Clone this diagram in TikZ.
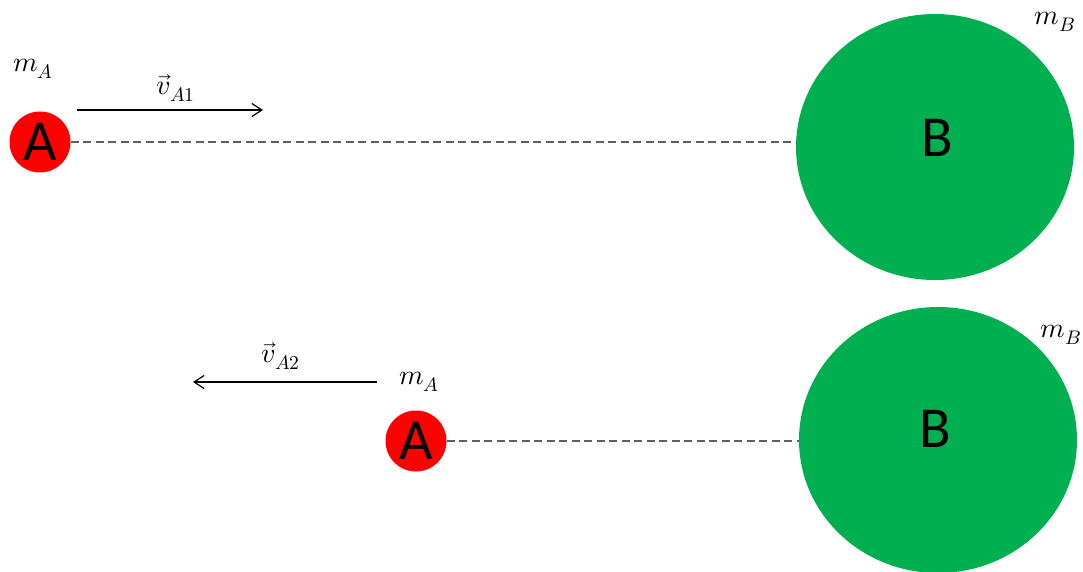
\documentclass[tikz,border=0pt]{standalone}
\usepackage{fontspec}
\usepackage{unicode-math}
\setmainfont{Carlito}
\setmathfont{Latin Modern Math}
\usetikzlibrary{arrows.meta}
\definecolor{ballred}{RGB}{255,0,0}
\definecolor{ballgreen}{RGB}{0,176,80}
\definecolor{linegray}{RGB}{95,95,95}
\tikzset{
  smallball/.style={circle, fill=ballred, minimum size=61pt, inner sep=0pt, font=\fontsize{58}{58}\selectfont},
  balltext/.style={font=\fontsize{58}{58}\selectfont, inner sep=0pt},
  masslabel/.style={font=\fontsize{28}{30}\selectfont},
  centerline/.style={linegray, line width=1.4pt, dash pattern=on 8pt off 4.5pt},
  velocity/.style={line width=1.2pt, -{Straight Barb[length=10pt,width=13pt,line width=1.2pt]}}
}
\begin{document}
\begin{tikzpicture}[x=1pt,y=-1pt]
\pgfmathsetmacro{\W}{1083}
\pgfmathsetmacro{\H}{571}
\useasboundingbox (0,0) rectangle (\W,\H);
\clip (0,0) rectangle (\W,\H);
% before the collision
\fill[ballgreen] (935,147) ellipse [x radius=139, y radius=133];
\coordinate (B1w) at (796,142);
\node[smallball] (A1) at (40,142) {A};
\node[balltext] (B1) at (937,138) {B};
\draw[centerline] (A1) -- (B1w);
\coordinate (P1) at (77,110);
\coordinate (Q1) at (263,110);
\draw[velocity] (P1) -- (Q1);
\node[masslabel] (vA1) at (176,88) {$\vec{v}_{A1}$};
\node[masslabel] (mA1) at (33,69) {$m_A$};
\node[masslabel] (mB1) at (1055,22) {$m_B$};
% after the collision
\fill[ballgreen] (938,440) ellipse [x radius=139, y radius=133];
\coordinate (B2w) at (799,441);
\node[smallball] (A2) at (416,441) {A};
\node[balltext] (B2) at (935,429) {B};
\draw[centerline] (A2) -- (B2w);
\coordinate (P2) at (377,382);
\coordinate (Q2) at (193,382);
\draw[velocity] (P2) -- (Q2);
\node[masslabel] (vA2) at (281,356) {$\vec{v}_{A2}$};
\node[masslabel] (mA2) at (419,382) {$m_A$};
\node[masslabel] (mB2) at (1061,335) {$m_B$};
\end{tikzpicture}
\end{document}
